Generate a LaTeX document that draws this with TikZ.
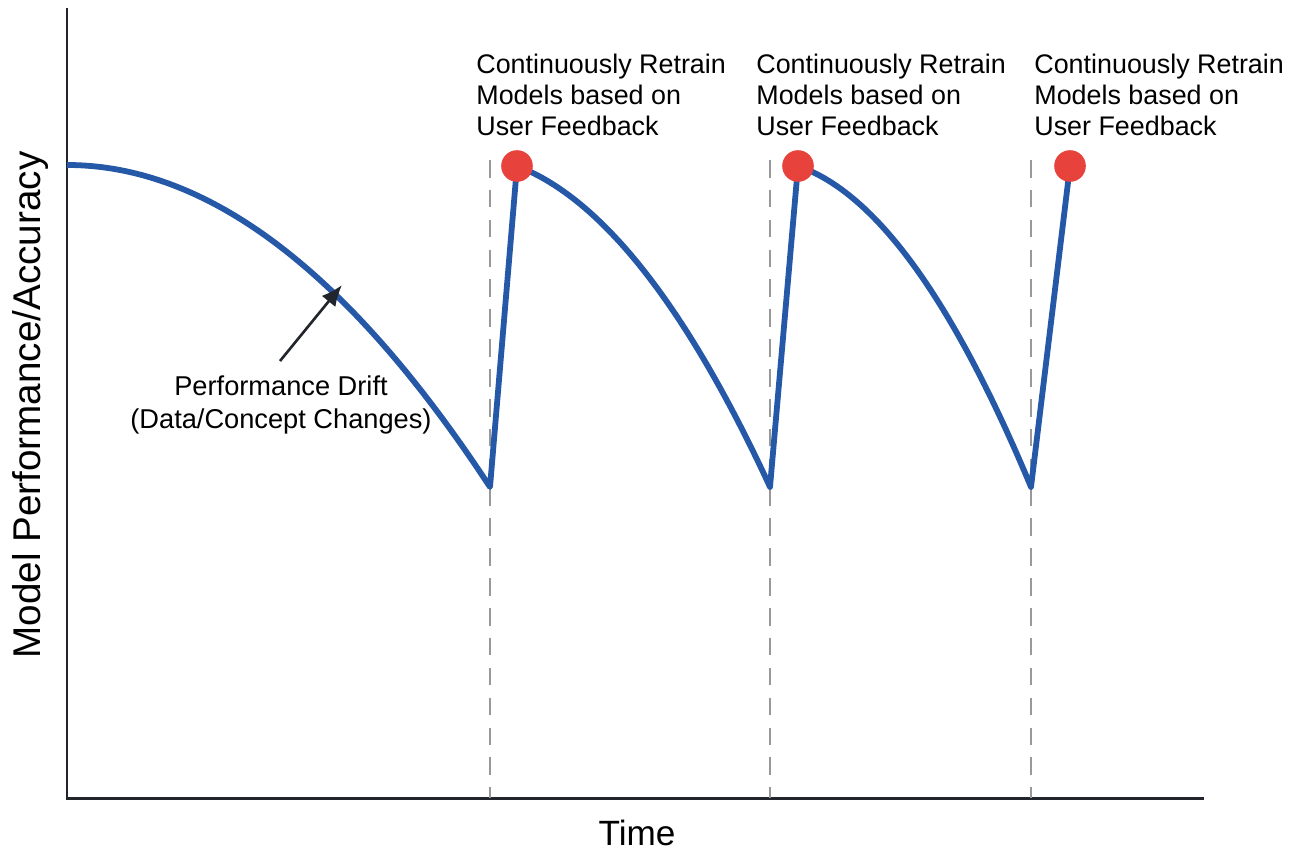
\documentclass[tikz,border=0pt]{standalone}
\usepackage{fontspec}
\setmainfont{Liberation Sans}
\usepackage{tikz}
\usetikzlibrary{arrows.meta}
\definecolor{driftblue}{RGB}{38,88,168}
\definecolor{dotred}{RGB}{232,66,60}
\definecolor{axisgray}{RGB}{34,38,44}
\tikzstyle{retrain}=[circle,fill=dotred,inner sep=0mm,minimum size=18pt]
\tikzstyle{marker}=[dash pattern=on 10pt off 7pt,draw=gray!80,line width=1.6pt]
\tikzstyle{note}=[align=left,anchor=north west,inner sep=0mm,font=\fontsize{15.3}{17.6}\selectfont]
\begin{document}
\begin{tikzpicture}[x=0.02cm,y=-0.02cm]
    \useasboundingbox (0,0) rectangle (1294,851);
    % axes
    \coordinate (O) at (67,798);
    \coordinate (ytop) at (67,8);
    \coordinate (xend) at (1204,798);
    \draw[axisgray,line width=1.7pt] (ytop) -- (O) -- (xend);
    \node at (637,833) (time) {\fontsize{20}{24}\selectfont Time};
    \node[rotate=90] at (31,405) (perf) {\fontsize{22}{26}\selectfont Model Performance/Accuracy};
    % retrain points
    \coordinate (s0) at (67,165);
    \coordinate (d1) at (490,487);
    \coordinate (d2) at (770,487);
    \coordinate (d3) at (1031,487);
    \coordinate (p1) at (517,166);
    \coordinate (p2) at (798,166);
    \coordinate (p3) at (1070,166);
    \coordinate (m1) at (490,160);
    \coordinate (m2) at (770,160);
    \coordinate (m3) at (1031,160);
    \coordinate (b1) at (490,798);
    \coordinate (b2) at (770,798);
    \coordinate (b3) at (1031,798);
    \draw[marker] (m1) -- (b1);
    \draw[marker] (m2) -- (b2);
    \draw[marker] (m3) -- (b3);
    \draw[driftblue,line width=3.3pt,line join=round]
        (s0) .. controls (208,165) and (349,272) .. (d1) -- (p1)
        .. controls (601,198) and (686,305) .. (d2) -- (p2)
        .. controls (876,193) and (953,300) .. (d3) -- (p3);
    \node[retrain] at (p1) (r1) {};
    \node[retrain] at (p2) (r2) {};
    \node[retrain] at (p3) (r3) {};
    \node[note] at (476,54) (n1) {Continuously Retrain\\Models based on\\User Feedback};
    \node[note] at (756,54) (n2) {Continuously Retrain\\Models based on\\User Feedback};
    \node[note] at (1034,54) (n3) {Continuously Retrain\\Models based on\\User Feedback};
    % drift annotation
    \node[align=center,font=\fontsize{15.5}{19}\selectfont] at (281,405) (drift) {Performance Drift\\(Data/Concept Changes)};
    \coordinate (a0) at (280,361);
    \coordinate (a1) at (342,285);
    \draw[-{Latex[length=12pt,width=10pt]},axisgray,line width=1.5pt] (a0) to (a1);
  \end{tikzpicture}
\end{document}
